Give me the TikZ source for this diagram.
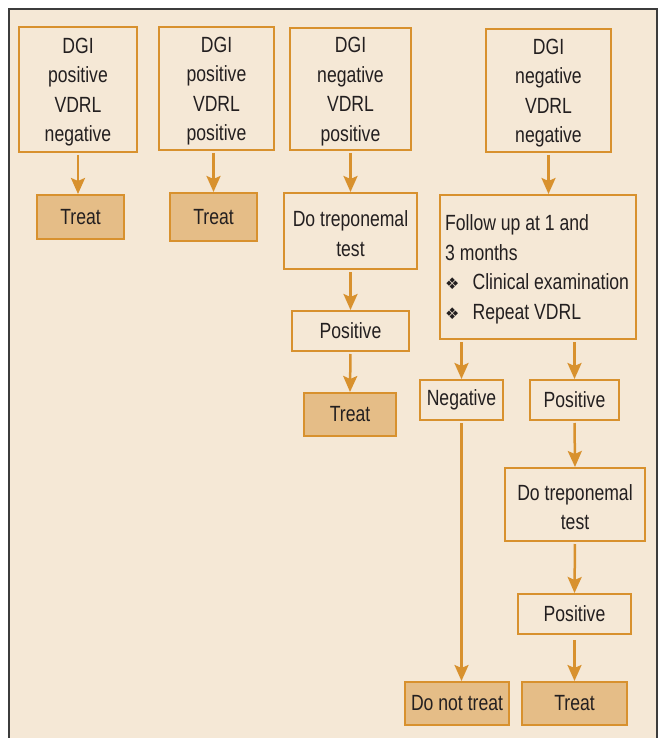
\documentclass[tikz,border=0pt]{standalone}
\usepackage{fontspec}
\setmainfont{Liberation Sans}[FakeStretch=0.80]
\newfontfamily\symfont{DejaVu Sans}
\usetikzlibrary{arrows.meta}
\definecolor{bg}{HTML}{F5E8D6}
\definecolor{edge}{HTML}{D8912E}
\definecolor{fillbox}{HTML}{E5BD87}
\definecolor{ink}{HTML}{231F20}
\definecolor{framegray}{HTML}{3C3C3C}
\newcommand\diamondbullet{{\symfont\fontsize{16}{16}\selectfont\char"2756}\hspace{13pt}}
% taller first line so multi-line text sits a little lower in its box
\newcommand\firstline{\rule{0pt}{21pt}}

\begin{document}
\begin{tikzpicture}[x=1pt,y=-1pt,
  box/.style={draw=edge, line width=2pt, fill=bg, align=center, inner sep=0pt,
    text=ink, font=\fontsize{22}{29.5}\selectfont},
  endbox/.style={box, fill=fillbox},
  flow/.style={draw=edge, line width=2.5pt,
    -{Stealth[length=16pt,width=14pt,inset=3pt]}, shorten <=2pt}]
\useasboundingbox (0,0) rectangle (659,738);
\fill[bg] (9,9) rectangle (657,740);
\draw[framegray, line width=1.5pt] (9,740) -- (9,9) -- (657,9) -- (657,740);

% first column
\node[box, minimum width=118pt, minimum height=125pt] (b1) at (78,89.5)
  {\firstline DGI\\positive\\VDRL\\negative};
\node[endbox, minimum width=87pt, minimum height=44pt] (t1) at (80.5,217) {Treat};

% second column
\node[box, minimum width=115pt, minimum height=123pt] (b2) at (216.5,88.5)
  {\firstline DGI\\positive\\VDRL\\positive};
\node[endbox, minimum width=87pt, minimum height=48pt] (t2) at (213.5,217) {Treat};

% third column
\node[box, minimum width=121pt, minimum height=122pt] (b3) at (350.5,89)
  {\firstline DGI\\negative\\VDRL\\positive};
\node[box, minimum width=133pt, minimum height=76pt] (d1) at (350.5,231)
  {\firstline Do treponemal\\test};
\node[box, minimum width=117pt, minimum height=40pt] (p1) at (350.5,331) {Positive};
\node[endbox, minimum width=92pt, minimum height=43pt] (t3) at (350,414.5) {Treat};

% fourth column
\node[box, minimum width=125pt, minimum height=123pt] (b4) at (548.5,90.5)
  {\firstline DGI\\negative\\VDRL\\negative};
\node[box, minimum width=196pt, minimum height=144pt] (f) at (538,267) {};
\node[anchor=west, align=left, inner sep=0pt, text=ink,
  font=\fontsize{22}{29.5}\selectfont] (ftext) at ([xshift=6pt]f.west)
  {\firstline Follow up at 1 and\\3 months\\\diamondbullet Clinical examination\\\diamondbullet Repeat VDRL};
\node[box, minimum width=83pt, minimum height=40pt] (n) at (461.5,400) {Negative};
\node[box, minimum width=89pt, minimum height=40pt] (p2) at (574.5,400) {Positive};
\node[box, minimum width=140pt, minimum height=73pt] (d2) at (575,504.5)
  {\firstline Do treponemal\\test};
\node[box, minimum width=113pt, minimum height=40pt] (p3) at (574.5,614) {Positive};
\node[endbox, minimum width=104pt, minimum height=43pt] (dn) at (457,703.5) {Do not treat};
\node[endbox, minimum width=105pt, minimum height=43pt] (t4) at (574.5,703.5) {Treat};

% connectors
\draw[flow] (b1.south) -- (b1.south |- t1.north);
\draw[flow] (t2.north |- b2.south) -- (t2.north);
\draw[flow] (b3.south) -- (d1.north);
\draw[flow] (d1.south) -- (p1.north);
\draw[flow] (p1.south) -- (t3.north);
\draw[flow] (b4.south) -- (b4.south |- f.north);
\draw[flow] (n.north |- f.south) -- (n.north);
\draw[flow] (p2.north |- f.south) -- (p2.north);
\draw[flow] (p2.south) -- (d2.north);
\draw[flow] (d2.south) -- (p3.north);
\draw[flow, shorten <=5pt] (p3.south) -- (t4.north);
\draw[flow] (n.south) -- (n.south |- dn.north);
\end{tikzpicture}
\end{document}
